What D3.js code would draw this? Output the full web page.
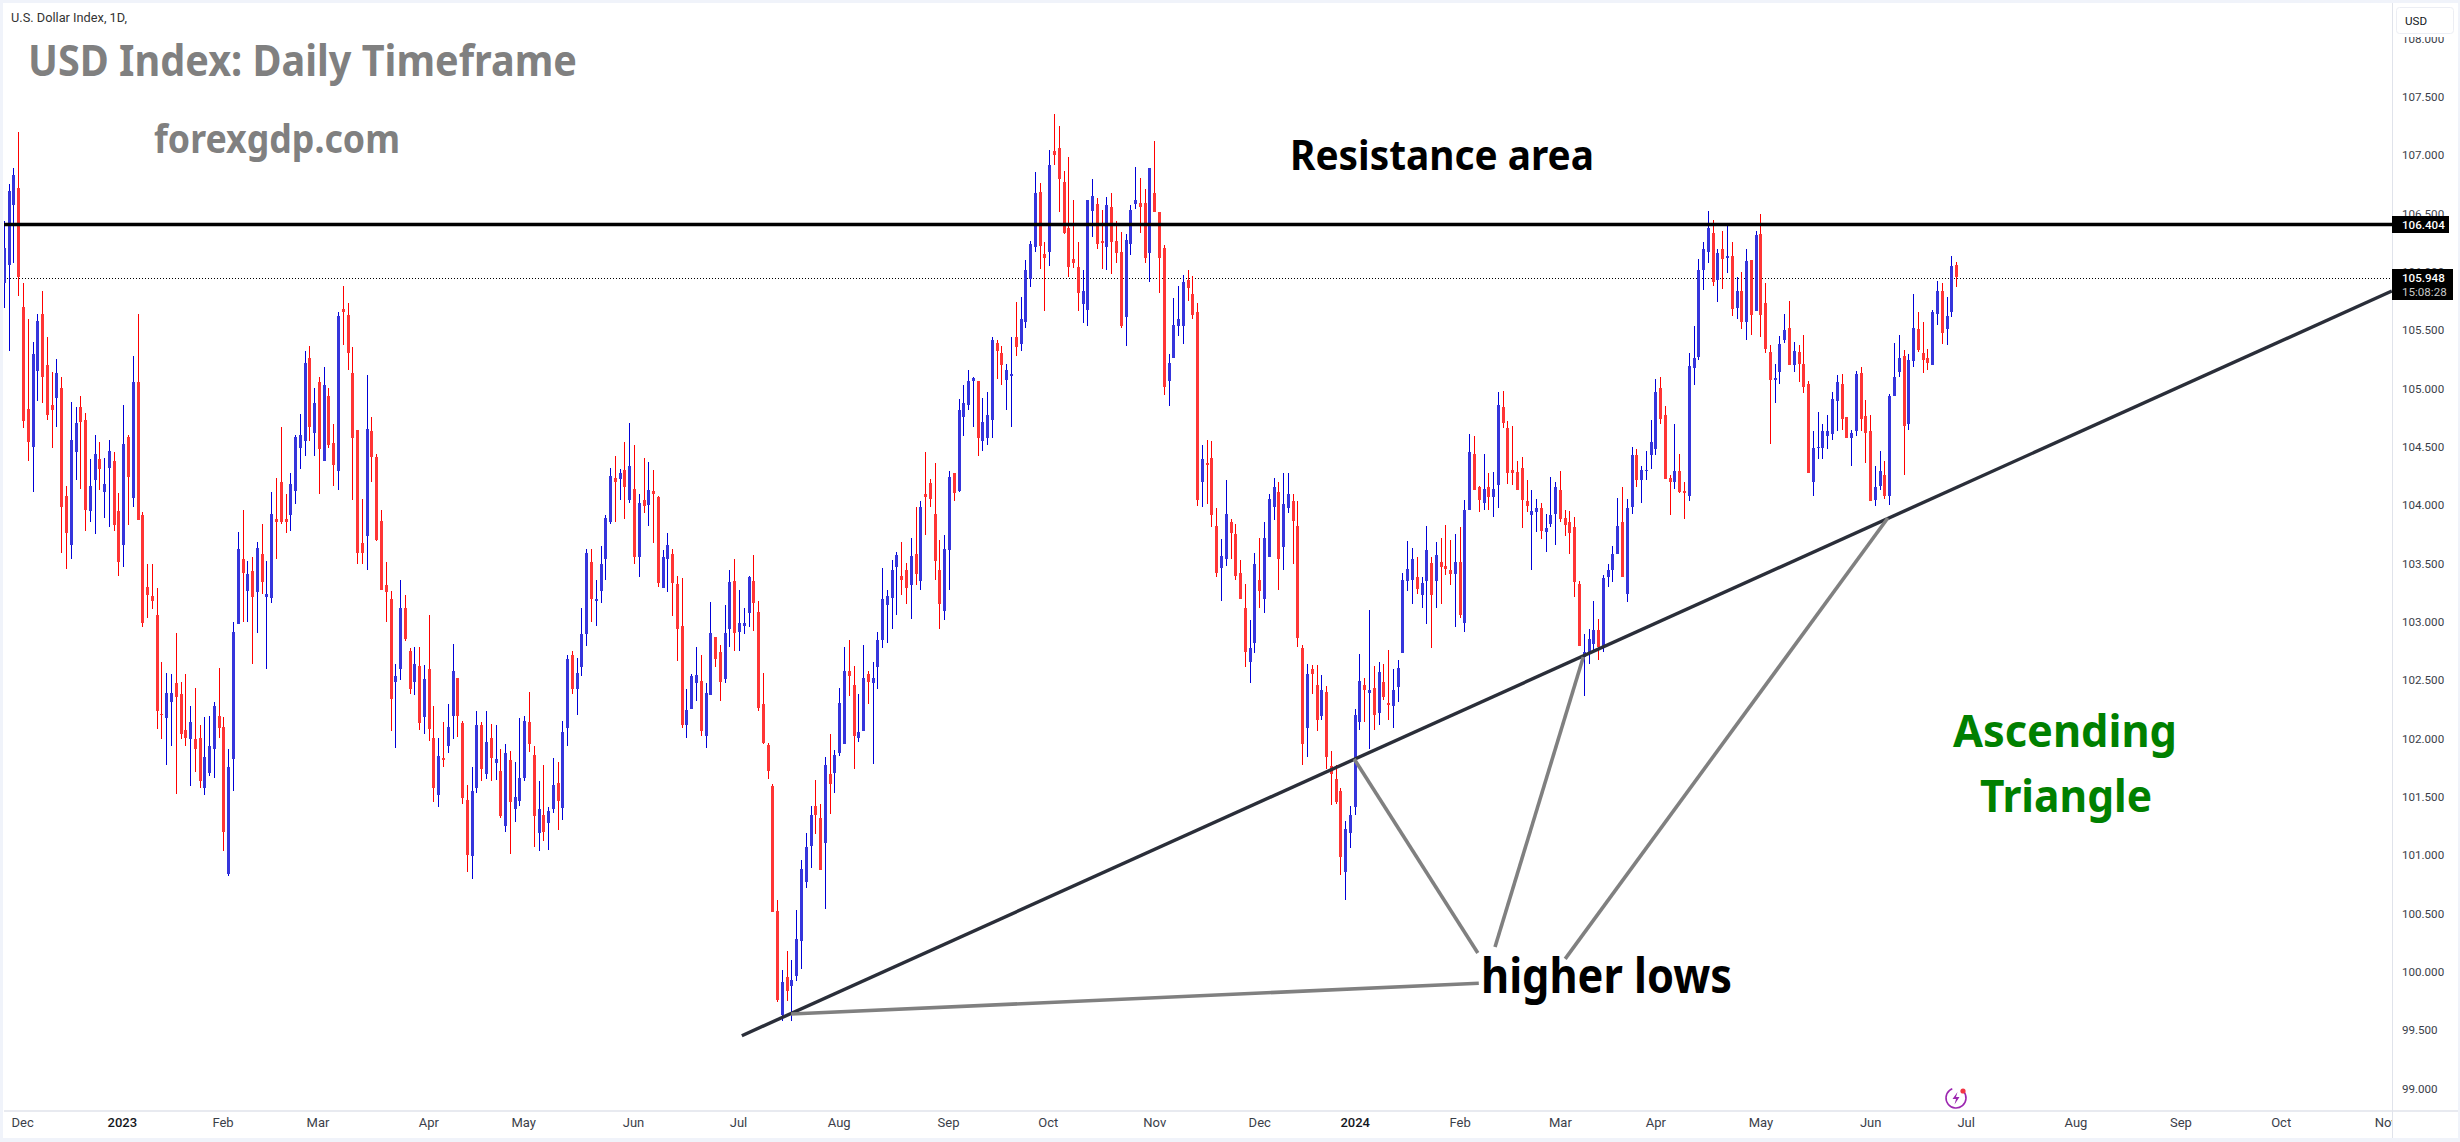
<!DOCTYPE html>
<html>
<head>
<meta charset="utf-8">
<script src="https://d3js.org/d3.v7.min.js"></script>
<style>
html, body { margin: 0; padding: 0; background: #fff; }
#chart { width: 2460px; height: 1142px; }
.tick text { font-family: Roboto, sans-serif; font-size: 11.6px; fill: #3a3e49; }
.note { font-family: "Noto Sans", sans-serif; }
</style>
</head>
<body>
<div id="chart"></div>
<script>
// Daily candles
var opens = [
105.90,106.06,106.57,106.72,105.70,104.82,104.50,105.15,105.64,105.20,
104.86,104.92,105.00,104.08,103.66,104.45,104.84,104.73,103.95,104.21,
104.39,104.11,104.32,104.38,103.95,103.66,104.58,104.06,105.05,103.91,
103.30,103.22,103.06,102.21,102.17,102.31,102.47,102.38,102.07,101.99,
101.99,102.00,101.57,101.70,101.91,102.19,102.10,100.84,101.82,102.98,
103.54,103.26,103.43,103.25,103.58,103.21,103.20,103.88,104.20,103.88,
103.91,104.12,104.49,104.55,105.26,104.62,105.05,104.38,104.93,104.53,
104.29,105.68,105.63,105.13,104.64,103.67,103.73,104.63,104.41,103.86,
103.31,103.19,102.48,102.59,103.12,102.75,102.48,102.62,102.18,102.59,
102.00,101.51,101.83,101.93,102.19,102.52,102.13,101.47,100.99,101.57,
102.11,101.69,102.00,101.79,101.72,101.25,101.81,101.39,101.46,101.66,
102.14,101.86,101.19,101.34,101.27,101.39,101.62,101.40,102.09,102.71,
102.42,102.61,102.89,103.51,103.19,103.26,103.54,103.85,104.23,104.22,
104.30,104.04,104.14,103.55,104.04,104.00,104.12,104.07,103.29,103.54,
103.58,103.32,102.96,102.11,102.25,102.47,102.49,102.02,102.37,102.87,
102.74,102.51,102.94,103.35,102.91,102.96,103.07,103.35,103.08,102.29,
101.94,101.59,100.52,99.63,99.95,99.88,99.96,100.26,100.77,101.08,
101.42,101.32,101.10,101.69,101.70,101.87,101.95,102.58,102.46,102.00,
102.06,102.55,102.47,102.61,102.84,103.14,103.20,103.47,103.39,103.44,
103.31,103.58,103.35,104.09,104.19,103.92,103.44,103.09,103.61,104.27,
104.12,104.75,104.86,105.06,105.06,104.55,104.57,104.73,105.39,105.30,
105.07,105.11,105.44,105.38,105.57,105.94,106.21,106.68,106.15,106.17,
107.03,107.06,106.77,106.37,106.11,106.04,105.72,105.67,106.52,106.58,
106.26,106.21,106.55,106.26,106.17,105.61,106.24,106.58,106.59,106.59,
106.16,106.67,106.51,106.20,105.06,105.26,105.53,105.53,105.93,105.81,
105.65,104.20,104.36,104.40,103.82,103.46,103.54,103.85,103.75,103.42,
103.12,102.65,102.82,103.36,103.19,103.55,103.98,104.11,103.64,103.97,
104.03,103.82,102.77,102.09,102.59,102.46,102.19,102.40,101.76,101.65,
101.55,100.85,101.19,101.41,102.14,102.46,102.39,102.43,102.22,102.48,
102.30,102.28,102.44,102.73,103.35,103.36,103.38,103.23,103.35,103.50,
103.35,103.51,103.48,103.44,103.41,103.51,102.99,103.96,104.44,104.15,
104.02,104.15,104.07,104.17,104.84,104.66,104.30,104.28,104.32,104.03,
103.91,103.94,103.97,103.77,103.84,103.92,104.13,103.89,103.85,103.81,
103.32,102.70,102.72,102.81,102.93,102.77,103.38,103.44,103.58,103.85,
103.24,103.98,104.43,104.21,104.29,104.43,104.48,105.00,104.77,104.23,
104.20,104.29,104.12,104.08,105.17,105.27,106.01,106.17,106.33,105.93,
106.19,106.12,106.13,105.69,105.83,105.57,106.10,105.66,106.32,105.73,
105.31,105.07,105.14,105.41,105.52,105.20,105.31,105.21,105.04,104.20,
104.50,104.49,104.59,104.61,104.89,105.04,104.75,104.57,104.63,105.13,
104.76,104.63,104.04,104.16,104.26,104.08,104.93,105.14,105.28,104.69,
105.23,105.51,105.30,105.26,105.20,105.64,105.83,105.51,105.65,106.06
];
var highs = [
106.43,106.75,106.89,107.20,105.90,105.59,105.40,105.64,105.83,105.44,
105.14,105.25,105.10,104.16,104.88,104.84,104.93,104.79,104.39,104.60,
104.54,104.40,104.56,104.45,104.10,104.86,104.60,105.28,105.64,103.94,
103.49,103.49,103.29,102.65,102.56,102.55,102.90,102.48,102.55,102.28,
102.43,102.11,102.18,102.19,102.31,102.60,102.18,101.91,103.00,103.77,
103.96,103.52,103.55,103.68,103.84,103.52,104.11,104.23,104.67,104.09,
104.27,104.60,104.78,105.32,105.36,105.00,105.10,105.18,105.00,104.69,
105.65,105.88,105.73,105.35,104.64,104.05,105.11,104.75,104.44,103.96,
103.51,103.26,102.64,103.36,103.23,102.77,102.78,102.78,102.63,103.06,
102.28,102.00,102.14,102.29,102.81,102.52,102.15,101.60,101.75,102.23,
102.14,102.23,102.12,102.11,101.91,101.95,101.89,101.80,102.17,102.19,
102.40,101.93,101.63,101.77,101.41,101.83,101.80,102.15,102.71,102.75,
102.69,103.12,103.62,103.62,103.36,103.65,103.91,104.32,104.42,104.31,
104.54,104.70,104.51,104.09,104.40,104.37,104.30,104.08,103.61,103.76,
103.62,103.39,103.37,102.42,102.55,102.78,102.71,102.47,103.17,102.87,
102.80,103.14,103.44,103.54,103.27,103.12,103.39,103.57,103.18,102.56,
101.96,101.61,100.61,100.01,100.18,100.10,100.53,100.96,101.19,101.42,
101.64,101.44,101.84,102.04,101.90,102.43,102.78,102.84,102.62,102.38,
102.80,102.58,102.65,102.91,103.46,103.27,103.53,103.60,103.68,103.50,
103.72,103.98,104.03,104.45,104.22,104.36,103.70,103.74,104.29,104.27,
104.91,105.03,105.16,105.10,105.06,104.92,104.97,105.44,105.41,105.36,
105.21,105.44,105.74,105.78,106.10,106.26,106.85,106.76,106.25,107.04,
107.35,107.25,106.86,106.98,106.61,106.25,106.01,106.61,106.79,106.63,
106.53,106.64,106.67,106.43,106.34,106.32,106.57,106.90,106.80,106.71,
106.86,107.12,106.51,106.23,105.29,105.77,105.88,105.97,106.01,105.96,
105.73,104.51,104.56,104.55,103.97,103.71,104.21,103.88,103.84,103.53,
103.32,103.01,103.59,103.72,103.85,104.09,104.23,104.20,104.27,104.27,
104.09,104.03,102.80,102.64,102.63,102.63,102.54,102.45,101.89,101.77,
101.57,101.29,101.42,102.25,102.72,102.52,103.10,102.62,102.65,102.64,
102.76,102.59,102.67,103.42,103.69,103.63,103.55,103.38,103.82,103.55,
103.68,103.72,103.83,103.70,103.75,103.81,104.04,104.61,104.59,104.16,
104.44,104.27,104.28,104.97,104.98,104.72,104.68,104.38,104.41,104.21,
104.13,104.05,104.02,103.92,104.24,104.20,104.29,103.96,103.95,103.90,
103.35,102.89,102.94,103.18,103.02,103.40,103.49,103.65,104.06,104.15,
104.05,104.50,104.48,104.33,104.46,104.73,105.08,105.10,104.85,104.26,
104.69,104.44,104.20,105.30,105.53,106.11,106.25,106.52,106.44,106.19,
106.35,106.40,106.25,105.95,106.00,106.19,106.10,106.35,106.49,105.90,
105.37,105.21,105.45,105.64,105.75,105.40,105.37,105.46,105.06,104.63,
104.80,104.69,104.77,104.97,105.11,105.12,104.75,104.64,105.15,105.18,
104.90,104.77,104.33,104.46,104.38,104.95,105.39,105.46,105.33,105.29,
105.81,105.65,105.57,105.34,105.67,105.92,105.90,105.78,106.13,106.08
];
var lows = [
105.69,105.32,106.07,105.79,104.66,104.38,104.11,104.89,104.87,104.73,
104.49,104.67,103.59,103.45,103.54,104.21,104.14,103.78,103.85,103.75,
104.13,103.89,103.81,103.78,103.39,103.47,103.83,103.98,103.87,102.95,
103.03,103.11,102.08,101.99,101.77,101.93,101.52,101.99,101.93,101.59,
101.71,101.57,101.51,101.68,101.66,102.00,101.03,100.82,101.55,102.98,
103.00,103.00,102.64,102.90,103.24,102.59,103.16,103.54,103.84,103.76,
103.78,104.01,104.31,104.42,104.55,104.42,104.09,104.38,104.49,104.16,
104.13,105.37,105.16,104.04,103.49,103.49,103.44,104.20,103.69,103.27,
103.00,102.06,101.92,102.50,102.83,102.38,102.37,102.07,102.04,101.98,
101.45,101.41,101.75,101.87,101.99,102.01,101.44,100.85,100.79,101.53,
101.63,101.65,101.63,101.64,101.32,101.20,101.01,101.28,101.42,101.63,
101.88,101.07,101.03,101.12,101.04,101.36,101.21,101.30,101.93,102.38,
102.20,102.53,102.79,103.00,102.96,103.16,103.36,103.84,103.85,104.04,
103.88,104.02,103.49,103.38,103.93,103.82,103.67,103.30,103.29,103.25,
103.05,102.66,102.09,102.00,102.25,102.32,102.02,101.92,102.37,102.61,
102.32,102.47,102.78,102.75,102.75,102.89,102.95,102.92,102.23,101.95,
101.65,100.51,99.74,99.58,99.75,99.58,99.92,100.02,100.72,100.89,
101.18,100.87,100.54,101.35,101.53,101.85,101.95,102.36,101.74,101.97,
102.06,102.29,101.78,102.42,102.77,102.82,102.94,103.06,103.23,103.15,
103.02,103.31,103.27,103.74,103.98,103.36,102.94,103.01,103.27,104.03,
104.11,104.59,104.81,104.67,104.42,104.46,104.51,104.57,105.08,105.03,
104.81,104.67,105.28,105.32,105.52,105.87,106.17,106.02,105.66,106.05,
106.91,106.51,106.32,105.95,106.03,105.66,105.56,105.53,106.30,106.19,
106.02,106.01,105.98,106.07,105.52,105.36,106.14,106.54,106.33,106.07,
105.91,106.61,105.82,104.94,104.85,105.26,105.45,105.38,105.75,105.59,
103.99,103.98,104.01,103.81,103.38,103.18,103.48,103.54,103.36,103.19,
102.61,102.47,102.73,103.12,103.07,103.55,103.87,103.27,103.44,103.93,
103.49,102.78,101.77,101.84,102.38,102.06,102.16,101.74,101.43,101.44,
100.83,100.61,101.06,101.34,102.07,102.14,101.91,102.07,102.11,102.33,
102.16,102.09,102.31,102.73,103.26,103.15,103.24,103.12,102.98,102.77,
103.12,103.15,103.40,103.31,102.95,103.03,102.91,103.96,104.13,103.94,
103.96,103.96,103.90,103.97,104.66,104.18,104.17,104.13,103.80,103.94,
103.44,103.77,103.71,103.60,103.81,103.66,103.85,103.73,103.58,103.21,
102.79,102.36,102.64,102.73,102.67,102.74,103.30,103.34,103.58,103.38,
103.17,103.92,104.15,104.02,104.21,104.31,104.43,104.69,104.22,103.91,
104.14,104.10,103.88,104.03,105.03,105.24,105.84,106.07,105.88,105.74,
105.85,105.99,105.62,105.59,105.51,105.41,105.46,105.66,105.44,105.30,
104.52,104.87,105.04,105.39,105.20,105.14,105.05,104.96,104.27,104.08,
104.39,104.39,104.48,104.56,104.63,104.64,104.57,104.33,104.59,104.63,
104.36,104.03,103.99,104.13,104.05,104.00,104.93,105.10,104.26,104.64,
105.18,105.31,105.13,105.16,105.20,105.54,105.38,105.37,105.61,105.87
];
var closes = [
106.20,106.69,106.83,105.95,104.72,104.54,105.29,105.58,105.10,104.77,
104.81,105.13,103.98,103.76,104.56,104.70,104.71,103.96,104.16,104.44,
104.31,104.18,104.46,103.83,103.51,104.52,104.24,105.05,103.87,102.99,
103.23,103.18,102.23,102.20,102.39,102.39,102.35,102.04,102.00,102.14,
101.91,101.63,101.84,101.93,102.28,102.09,101.20,101.75,102.91,103.62,
103.42,103.41,103.21,103.63,103.34,103.24,103.92,103.85,103.85,103.85,
104.18,104.58,104.60,105.22,104.67,104.87,104.48,105.03,104.51,104.34,
105.62,105.65,105.30,104.57,103.59,103.59,104.65,104.41,103.70,103.27,
103.25,102.34,102.53,103.12,102.85,102.42,102.64,102.13,102.51,102.08,
101.57,101.85,101.81,102.10,102.58,102.19,101.49,101.00,101.55,102.11,
101.74,101.97,101.83,101.82,101.33,101.87,101.45,101.50,101.66,102.15,
101.95,101.33,101.39,101.20,101.38,101.60,101.46,102.05,102.68,102.42,
102.56,102.89,103.59,103.19,103.19,103.49,103.89,104.25,104.20,104.27,
104.15,104.33,103.55,104.02,103.99,104.13,104.09,103.33,103.55,103.66,
103.33,102.94,102.11,102.24,102.53,102.54,102.06,102.39,102.90,102.68,
102.48,102.90,103.34,102.90,102.99,102.99,103.38,103.16,102.26,101.96,
101.72,100.51,99.76,99.91,99.83,99.93,100.28,100.88,101.07,101.34,
101.34,100.87,101.77,101.61,101.86,102.30,102.58,102.53,102.02,102.05,
102.52,102.48,102.52,102.84,103.19,103.22,103.44,103.57,103.36,103.29,
103.56,103.41,103.98,104.07,104.05,103.52,103.15,103.62,104.24,104.10,
104.81,104.87,105.06,105.09,104.57,104.71,104.77,105.41,105.32,105.20,
105.16,105.12,105.35,105.59,106.01,106.24,106.67,106.22,106.12,106.91,
107.00,106.79,106.33,106.04,106.07,105.82,105.83,106.61,106.65,106.24,
106.25,106.57,106.25,106.16,105.53,106.27,106.53,106.61,106.55,106.12,
106.89,106.51,106.12,105.01,105.22,105.54,105.59,105.91,105.86,105.63,
104.04,104.39,104.34,103.91,103.42,103.56,103.92,103.76,103.39,103.19,
102.74,102.77,103.49,103.26,103.72,104.05,104.15,103.54,104.01,104.09,
103.86,102.86,101.95,102.55,102.55,102.16,102.41,101.84,101.69,101.45,
100.98,101.22,101.34,102.20,102.49,102.41,102.41,102.20,102.57,102.35,
102.29,102.41,102.60,103.36,103.45,103.54,103.28,103.33,103.61,103.23,
103.57,103.47,103.45,103.41,103.51,103.06,103.96,104.45,104.13,104.04,
104.14,104.07,104.14,104.86,104.70,104.27,104.27,104.13,104.04,103.99,
103.95,103.97,103.78,103.80,103.91,104.15,103.88,103.83,103.76,103.34,
102.79,102.74,102.85,102.93,102.78,103.37,103.44,103.58,103.82,103.38,
103.97,104.43,104.21,104.30,104.30,104.54,104.97,104.74,104.22,104.20,
104.29,104.11,104.10,105.19,105.26,106.01,106.19,106.37,105.91,106.16,
106.11,106.13,105.68,105.83,105.57,106.09,105.63,106.31,105.63,105.34,
105.07,105.09,105.38,105.50,105.20,105.32,105.21,105.01,104.27,104.49,
104.50,104.63,104.63,104.91,105.05,104.74,104.57,104.62,105.12,104.74,
104.62,104.03,104.15,104.29,104.08,104.93,105.10,105.26,104.68,105.24,
105.52,105.33,105.24,105.22,105.65,105.83,105.47,105.62,106.05,105.95
];

// Axis values
var priceTicks = [99, 99.5, 100, 100.5, 101, 101.5, 102, 102.5, 103, 103.5, 104, 104.5, 105, 105.5, 106, 106.5, 107, 107.5, 108];
var monthLabels = ["Dec", "2023", "Feb", "Mar", "Apr", "May", "Jun", "Jul", "Aug", "Sep", "Oct", "Nov", "Dec", "2024", "Feb", "Mar", "Apr", "May", "Jun", "Jul", "Aug", "Sep", "Oct", "Nov"];
var monthIndex = [3.8, 24.7, 45.8, 65.7, 88.9, 108.8, 131.8, 153.8, 174.9, 197.8, 218.7, 241, 263, 283, 305, 326, 346, 368, 391, 411, 434, 456, 477, 499];

// Price levels and drawn lines (bar index, price)
var resistance = 106.404;
var lastPrice = 105.948;
var trendIndex = [154.6, 500.3];
var trendPrice = [99.451, 105.834];
var leaderFrom = [[282.9, 101.823], [330.9, 102.697], [394.7, 103.888], [164.9, 99.637]];
var leaderTo = [[308.8, 100.16], [312.4, 100.211], [327.1, 100.109], [309.0, 99.90]];

// General settings
var width = 2460;
var height = 1142;
var plotLeft = 4;
var plotRight = 2392;
var plotTop = 3;
var plotBottom = 1111;
var barStep = 4.773;
var firstBarX = 3.93;

var svg = d3.select("#chart")
    .append("svg")
    .attr("width", width)
    .attr("height", height);

var x = d3.scaleLinear().domain([0, 500]).range([firstBarX, firstBarX + 500 * barStep]);
var y = d3.scaleLinear().domain([99, 108]).range([1088.3, 38.3]);

svg.append("defs").append("clipPath").attr("id", "plotClip")
    .append("rect")
    .attr("x", plotLeft)
    .attr("y", plotTop)
    .attr("width", plotRight - plotLeft)
    .attr("height", plotBottom - plotTop);

// Page frame
var frame = svg.append("g").attr("fill", "#f0f3fa");
frame.append("rect").attr("x", 0).attr("y", 0).attr("width", width).attr("height", 3);
frame.append("rect").attr("x", 0).attr("y", 0).attr("width", 3).attr("height", height);
frame.append("rect").attr("x", 0).attr("y", 1138).attr("width", width).attr("height", 4);
frame.append("rect").attr("x", 2458).attr("y", 0).attr("width", 2).attr("height", height);

// Candles
var plot = svg.append("g").attr("clip-path", "url(#plotClip)");

// last price line sits under the bars
plot.append("line")
    .attr("x1", plotLeft).attr("x2", plotRight)
    .attr("y1", Math.round(y(lastPrice)) + 0.5).attr("y2", Math.round(y(lastPrice)) + 0.5)
    .attr("stroke", "#000")
    .attr("stroke-width", 1)
    .attr("stroke-dasharray", "1,2");

var bars = plot.selectAll(".bar")
    .data(opens)
    .enter()
    .append("g")
    .attr("class", "bar")
    .attr("shape-rendering", "crispEdges");

bars.append("rect")
    .attr("x", function (d, i) { return Math.round(x(i)); })
    .attr("y", function (d, i) { return y(highs[i]); })
    .attr("width", 1)
    .attr("height", function (d, i) { return y(lows[i]) - y(highs[i]); })
    .attr("fill", function (d, i) { return closes[i] >= opens[i] ? "#0000d8" : "#ff0000"; });

bars.append("rect")
    .attr("x", function (d, i) { return Math.round(x(i)) - 1; })
    .attr("y", function (d, i) { return y(Math.max(opens[i], closes[i])); })
    .attr("width", 3)
    .attr("height", function (d, i) { return Math.max(1.5, Math.abs(y(opens[i]) - y(closes[i]))); })
    .attr("fill", function (d, i) { return closes[i] >= opens[i] ? "#3535dc" : "#ff3535"; });

// Resistance, trend line and leaders
plot.append("line")
    .attr("x1", plotLeft).attr("x2", plotRight)
    .attr("y1", y(resistance)).attr("y2", y(resistance))
    .attr("stroke", "#000")
    .attr("stroke-width", 3.6);

plot.append("line")
    .attr("x1", x(trendIndex[0])).attr("y1", y(trendPrice[0]))
    .attr("x2", x(trendIndex[1])).attr("y2", y(trendPrice[1]))
    .attr("stroke", "#2a2e39")
    .attr("stroke-width", 3.4);

leaderFrom.forEach(function (p, i) {
    plot.append("line")
        .attr("x1", x(p[0])).attr("y1", y(p[1]))
        .attr("x2", x(leaderTo[i][0])).attr("y2", y(leaderTo[i][1]))
        .attr("stroke", "#808080")
        .attr("stroke-width", 3.6);
});

// Axes
var yAxis = d3.axisRight(y)
    .tickValues(priceTicks)
    .tickFormat(d3.format(".3f"))
    .tickSize(0)
    .tickPadding(10);

var yAxisG = svg.append("g").attr("transform", "translate(" + plotRight + ",0)").call(yAxis);
yAxisG.select(".domain").remove();

var xAxis = d3.axisBottom(x)
    .tickValues(monthIndex)
    .tickFormat(function (d, i) { return monthLabels[i]; })
    .tickSize(0)
    .tickPadding(7);

var xAxisG = svg.append("g").attr("transform", "translate(0," + plotBottom + ")").call(xAxis);
xAxisG.select(".domain").remove();
xAxisG.selectAll("text")
    .style("fill", function (d, i) { return /^20/.test(monthLabels[i]) ? "#131722" : "#3a3e49"; })
    .style("font-weight", function (d, i) { return /^20/.test(monthLabels[i]) ? 500 : 400; })
    .style("font-size", "13px");

// hides the part of "Nov" that runs under the price scale
svg.append("rect").attr("x", plotRight).attr("y", plotBottom).attr("width", 66).attr("height", 27).attr("fill", "#fff");

svg.append("line")
    .attr("x1", plotRight + 0.5).attr("x2", plotRight + 0.5)
    .attr("y1", plotTop).attr("y2", 1138)
    .attr("stroke", "#e0e3eb").attr("stroke-width", 1);
svg.append("line")
    .attr("x1", plotLeft).attr("x2", 2458)
    .attr("y1", plotBottom).attr("y2", plotBottom)
    .attr("stroke", "#e0e3eb").attr("stroke-width", 1.5);

// USD button
svg.append("rect")
    .attr("x", 2396.5).attr("y", 7.5)
    .attr("width", 57).attr("height", 26)
    .attr("rx", 3)
    .attr("fill", "#fff")
    .attr("stroke", "#eceef4");
svg.append("rect").attr("x", 2398).attr("y", 34).attr("width", 50).attr("height", 3).attr("fill", "#fff");
svg.append("text")
    .attr("x", 2405).attr("y", 24.5)
    .attr("font-family", "Roboto, sans-serif")
    .attr("font-size", 11.6)
    .attr("fill", "#131722")
    .text("USD");

// Price tags
svg.append("rect").attr("x", plotRight).attr("y", 216).attr("width", 57).attr("height", 17).attr("fill", "#000");
svg.append("text")
    .attr("x", 2402).attr("y", y(resistance) + 4.5)
    .attr("font-family", "Roboto, sans-serif").attr("font-weight", 500).attr("font-size", 11.6)
    .attr("fill", "#fff")
    .text(d3.format(".3f")(resistance));

svg.append("rect").attr("x", plotRight).attr("y", 269).attr("width", 61).attr("height", 31).attr("fill", "#000");
svg.append("text")
    .attr("x", 2402).attr("y", 282)
    .attr("font-family", "Roboto, sans-serif").attr("font-weight", 500).attr("font-size", 11.6)
    .attr("fill", "#fff")
    .text(d3.format(".3f")(lastPrice));
svg.append("text")
    .attr("x", 2402).attr("y", 296)
    .attr("font-family", "Roboto, sans-serif").attr("font-size", 11.6)
    .attr("fill", "#c8c8c8")
    .text("15:08:28");

// Texts on the chart
function note(label, left, baseline, fitWidth, size, color, weight) {
    svg.append("text")
        .attr("class", "note")
        .attr("x", left)
        .attr("y", baseline)
        .attr("font-size", size)
        .attr("font-weight", weight)
        .attr("fill", color)
        .attr("textLength", fitWidth)
        .attr("lengthAdjust", "spacingAndGlyphs")
        .text(label);
}

svg.append("text")
    .attr("x", 11).attr("y", 22)
    .attr("font-family", "Roboto, sans-serif")
    .attr("font-size", 12)
    .attr("fill", "#333")
    .attr("textLength", 116)
    .attr("lengthAdjust", "spacingAndGlyphs")
    .text("U.S. Dollar Index, 1D,");

note("USD Index: Daily Timeframe", 28, 76, 549, 43, "#808080", 700);
note("forexgdp.com", 154, 153, 246, 40, "#808080", 700);
note("Resistance area", 1290, 170, 304, 42, "#000", 700);
note("higher lows", 1481, 993, 251, 48, "#000", 700);
note("Ascending", 1953, 747, 224, 45, "#008000", 700);
note("Triangle", 1980, 812, 172, 45, "#008000", 700);

// Lightning badge near the axis
var badge = svg.append("g").attr("transform", "translate(1956,1098)");
badge.append("circle")
    .attr("r", 10)
    .attr("fill", "#fff")
    .attr("stroke", "#9c27b0")
    .attr("stroke-width", 1.6)
    .attr("stroke-dasharray", "50,13")
    .attr("transform", "rotate(-40)");
badge.append("path")
    .attr("d", "M1.5,-6 L-3.5,1 L0,1 L-1.5,6.5 L3.5,-1 L0,-1 Z")
    .attr("fill", "#9c27b0");
badge.append("circle")
    .attr("cx", 7).attr("cy", -7).attr("r", 2.6)
    .attr("fill", "#f23645");
</script>
</body>
</html>
